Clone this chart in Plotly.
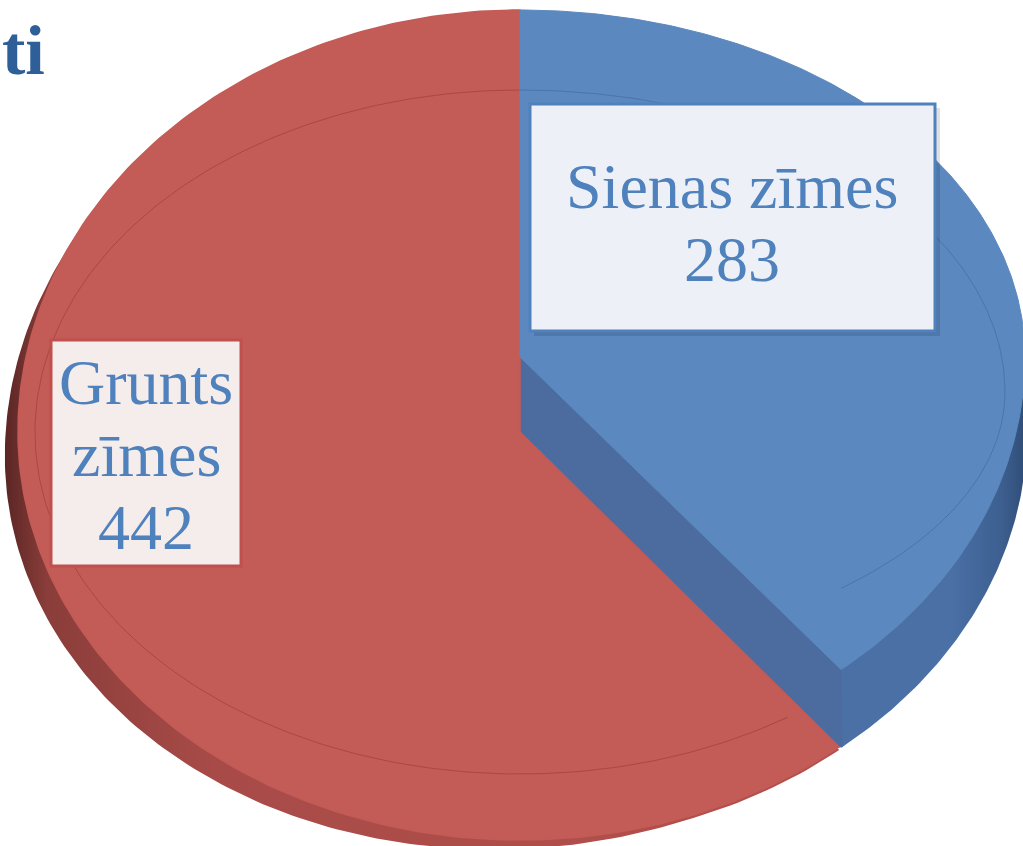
import numpy as np
import plotly.graph_objects as go

# ---- data ----
categories = ["Sienas zīmes", "Grunts zīmes"]
values = [283, 442]
label_lines = [["Sienas zīmes", "283"], ["Grunts", "zīmes", "442"]]
title_text = "ti"

# ---- geometry / style (pixel space of the page) ----
W, H = 1023, 846
total = sum(values)
theta = 360.0 * values[0] / total  # blue slice from 12 o'clock clockwise


def arc(cx, cy, a, b_up, b_down, t0, t1, n=240):
    t = np.radians(np.linspace(t0, t1, n))
    x = cx + a * np.sin(t)
    c = np.cos(t)
    y = np.where(c >= 0, cy - b_up * c, cy - b_down * c)
    return x, y, t


def poly(xs, ys, color, gradient=None, lw=0):
    tr = go.Scatter(x=list(xs), y=list(ys), fill="toself", fillcolor=color,
                    mode="lines", line=dict(color=color, width=lw),
                    hoverinfo="skip", showlegend=False)
    if gradient is not None:
        tr.fillgradient = gradient
    return tr


fig = go.Figure()

# red top face outline
rx, ry, rt = arc(520, 432, 502, 422, 408, theta, 360)

# red side wall: top outline pushed outward, strongest at lower-left
w = np.clip(np.cos(rt - np.radians(250)), 0, 1)
wx = rx - 14 * w
wy = ry + 18 * w + 3
fig.add_trace(poly(np.r_[520, wx, 520], np.r_[432, wy, 432], "#A64A47",
                   gradient=dict(type="horizontal",
                                 colorscale=[[0, "#5A2624"], [0.05, "#8A3D3A"], [0.25, "#A84B48"], [1, "#B4504C"]])))

# blue body (outer wall)
bx, by, _ = arc(520, 432, 507, 400, 408, 0, theta)
fig.add_trace(poly(np.r_[520, bx, rx[0], 520], np.r_[432, by, ry[0], 432], "#4A70A6",
                   gradient=dict(type="horizontal",
                                 colorscale=[[0, "#4A70A6"], [0.85, "#4A70A6"], [0.95, "#3D5F90"], [1, "#2E4C75"]])))
# blue top face outline
tx, ty, _ = arc(520, 357, 505, 347, 405, 0, theta)
# blue cut face
fig.add_trace(poly([520, 520, rx[0], bx[-1], tx[-1], 520],
                   [357, 432, ry[0], by[-1], ty[-1], 357], "#4C6CA0", lw=1))

# red top face
fig.add_trace(poly(np.r_[520, rx, 520], np.r_[432, ry, 432], "#C35B57", lw=1.5))
# red bevel line
x, y, _ = arc(520, 432, 485, 342, 342, theta + 6, 360)
fig.add_trace(go.Scatter(x=x, y=y, mode="lines", line=dict(color="rgba(150,55,52,0.55)", width=1),
                         hoverinfo="skip", showlegend=False))

# blue top face
fig.add_trace(poly(np.r_[520, tx, 520], np.r_[357, ty, 357], "#5B88BF", lw=1))
# blue bevel line
x, y, _ = arc(520, 392, 485, 302, 262, 0, theta - 2)
fig.add_trace(go.Scatter(x=x, y=y, mode="lines", line=dict(color="rgba(60,95,150,0.5)", width=1),
                         hoverinfo="skip", showlegend=False))

shapes = [
    # shadow + label boxes
    dict(type="rect", x0=534, y0=108, x1=940, y1=336, line=dict(width=0), fillcolor="rgba(0,0,0,0.12)", layer="above"),
    dict(type="rect", x0=530, y0=104, x1=935, y1=331, line=dict(color="#4F81BD", width=3), fillcolor="#EDF1F7", layer="above"),
    dict(type="rect", x0=51, y0=340, x1=241, y1=566, line=dict(color="#C0504D", width=3), fillcolor="#F5ECEC", layer="above"),
]

annotations = []
font = dict(family="Liberation Serif", size=64, color="#4F81BD")
for i, line in enumerate(label_lines[0]):
    annotations.append(dict(x=732, y=186 + 73 * i, text=line, showarrow=False, xanchor="center",
                            yanchor="middle", font=font, xref="x", yref="y"))
for i, line in enumerate(label_lines[1]):
    annotations.append(dict(x=146, y=382 + 72.5 * i, text=line, showarrow=False, xanchor="center",
                            yanchor="middle", font=font, xref="x", yref="y"))
annotations.append(dict(x=1, y=50, text="<b>%s</b>" % title_text, showarrow=False, xanchor="left",
                        yanchor="middle", xref="x", yref="y", borderpad=0,
                        font=dict(family="Liberation Serif", size=70, color="#2F5F99")))

fig.update_layout(
    width=W, height=H, margin=dict(l=0, r=0, t=0, b=0),
    paper_bgcolor="white", plot_bgcolor="white",
    xaxis=dict(range=[0, W], visible=False, fixedrange=True),
    yaxis=dict(range=[H, 0], visible=False, fixedrange=True),
    shapes=shapes, annotations=annotations, showlegend=False,
)

fig.write_html("out.html", include_plotlyjs=True, config={"displayModeBar": False},
               post_script="document.body.style.margin='0';document.body.style.overflow='hidden';")
